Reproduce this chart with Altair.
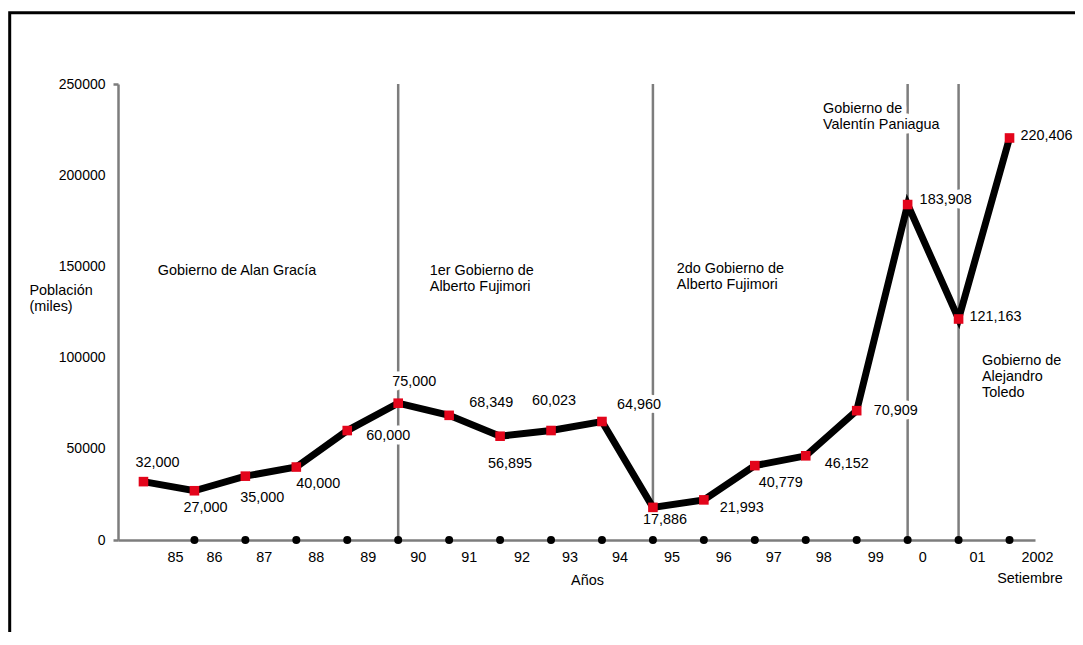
import altair as alt
import pandas as pd

# ---------------- data ----------------
years = ["85", "86", "87", "88", "89", "90", "91", "92", "93", "94",
         "95", "96", "97", "98", "99", "0", "01", "2002"]
poblacion = [32000, 27000, 35000, 40000, 60000, 75000, 68349, 56895, 60023,
             64960, 17886, 21993, 40779, 46152, 70909, 183908, 121163, 220406]

# government boundaries (index of year) and where each rule stops at the bottom
gov_idx = [5, 10, 15, 16]
gov_bottom = [0, 17886, 0, 0]

annot_text = ["Gobierno de Alan Gracía",
              "1er Gobierno de\nAlberto Fujimori",
              "2do Gobierno de\nAlberto Fujimori",
              "Gobierno de\nValentín Paniagua",
              "Gobierno de\nAlejandro\nToledo"]
annot_x = [0.28, 5.62, 10.47, 13.34, 16.46]
annot_y = [145300, 145300, 146400, 234100, 95900]

# label placement offsets in pixels (style)
label_dx = [14, 11, 17, 22, 41, 16, 42, 10, 3, 37, 12, 38, 26, 41, 39, 38, 37, 37]
label_dy = [-19, 17, 22, 17, 5, -21, -12, 28, -30, -17, 13, 8, 17, 8, 0, -5, -2, -2]
year_dx = [32, 20, 19, 20, 21, 20, 20, 22, 19, 18, 19, 20, 19, 18, 19, 15, 19, 28]

# ---------------- layout ----------------
W, H = 917, 456
XMIN, XMAX = -0.5, 17.5
YMAX = 250000
PXX = W / (XMAX - XMIN)
PXY = H / YMAX

GRAY = "#7d7d7d"
RED = "#e3051b"
FONT = "Liberation Sans"
FS = 14.4

df = pd.DataFrame({
    "idx": list(range(len(years))),
    "year": years,
    "pob": poblacion,
    "ldx": label_dx,
    "ldy": label_dy,
    "ydx": year_dx,
})
gov = pd.DataFrame({"idx": gov_idx, "bottom": gov_bottom, "top": [YMAX] * len(gov_idx)})
ann = pd.DataFrame({"text": annot_text, "ax": annot_x, "ay": annot_y})

xs = alt.Scale(domain=[XMIN, XMAX], nice=False, zero=False)
ys = alt.Scale(domain=[0, YMAX], nice=False, zero=False)

XAX = alt.Axis(
    title="Años", labels=False, ticks=False, grid=False,
    domainColor=GRAY, domainWidth=2.5,
    titleX=469, titleY=44, titleBaseline="alphabetic",
    titleFont=FONT, titleFontSize=FS, titleFontWeight="normal", titleColor="black",
)
YAX = alt.Axis(
    values=[0, 50000, 100000, 150000, 200000, 250000], format="d",
    grid=False, domainColor=GRAY, domainWidth=2.5,
    tickSize=5, tickWidth=2.5,
    tickColor={"condition": {"test": "datum.value === 0 || datum.value === 250000",
                             "value": GRAY}, "value": "transparent"},
    labelPadding=8, labelFont=FONT, labelFontSize=14, labelColor="black",
    title=["Población", "(miles)"], titleAngle=0, titleAlign="left",
    titleBaseline="alphabetic", titleX=-89, titleY=210, titleLineHeight=16,
    titleFont=FONT, titleFontSize=FS, titleFontWeight="normal", titleColor="black",
)


def X(field):
    return alt.X(field, scale=xs, axis=XAX)


def Y(field):
    return alt.Y(field, scale=ys, axis=YAX)


base = alt.Chart(df)

frame = alt.Chart(pd.DataFrame({"k": [0]})).mark_rect(
    filled=False, stroke="black", strokeWidth=3
).encode(
    x=alt.value(-108.3), x2=alt.value(3000),
    y=alt.value(-71.2), y2=alt.value(3000)
)

rules = alt.Chart(gov).mark_rule(color=GRAY, strokeWidth=2.5).encode(
    x=X("idx:Q"), y=Y("top:Q"), y2="bottom:Q",
)

labels_src = base.transform_calculate(
    lx=f"datum.idx + datum.ldx / {PXX}",
    ly=f"datum.pob - datum.ldy / {PXY}",
)

label_halo = labels_src.mark_text(
    font=FONT, fontSize=FS, align="center", baseline="middle",
    stroke="white", strokeWidth=9, strokeJoin="round", fill="white"
).encode(x=X("lx:Q"), y=Y("ly:Q"), text=alt.Text("pob:Q", format=","))

ann_halo = alt.Chart(ann).mark_text(
    font=FONT, fontSize=FS, align="left", baseline="alphabetic", lineBreak="\n",
    lineHeight=16, stroke="white", strokeWidth=9, strokeJoin="round", fill="white"
).encode(x=X("ax:Q"), y=Y("ay:Q"), text="text:N")

line = base.mark_line(color="black", strokeWidth=7).encode(x=X("idx:Q"), y=Y("pob:Q"))

squares = base.mark_square(size=92, color=RED, opacity=1).encode(x=X("idx:Q"), y=Y("pob:Q"))

dots = base.transform_filter("datum.idx >= 1").transform_calculate(zero="0").mark_circle(
    size=64, color="black", opacity=1
).encode(x=X("idx:Q"), y=Y("zero:Q"))

year_text = base.transform_calculate(
    yx=f"datum.idx + datum.ydx / {PXX}", zero="0"
).mark_text(font=FONT, fontSize=FS, baseline="middle", align="center", dy=18, color="black").encode(
    x=X("yx:Q"), y=Y("zero:Q"), text="year:N",
)

setiembre = base.transform_filter("datum.year === '2002'").transform_calculate(
    sx=f"datum.idx + 20.5 / {PXX}", zero="0"
).mark_text(font=FONT, fontSize=FS, baseline="middle", align="center", dy=39, color="black").encode(
    x=X("sx:Q"), y=Y("zero:Q"), text=alt.value("Setiembre"),
)

value_text = labels_src.mark_text(
    font=FONT, fontSize=FS, align="center", baseline="middle", color="black"
).encode(x=X("lx:Q"), y=Y("ly:Q"), text=alt.Text("pob:Q", format=","))

ann_text = alt.Chart(ann).mark_text(
    font=FONT, fontSize=FS, align="left", baseline="alphabetic", lineBreak="\n",
    lineHeight=16, color="black"
).encode(x=X("ax:Q"), y=Y("ay:Q"), text="text:N")

chart = alt.layer(
    frame, rules, label_halo, ann_halo, line, squares, dots,
    year_text, setiembre, value_text, ann_text
).properties(
    width=W, height=H,
    autosize=alt.AutoSizeParams(type="none"),
    padding={"left": 110, "top": 76, "right": 40, "bottom": 92},
).configure(font=FONT).configure_view(stroke=None)

chart.save("out.html", embed_options={"renderer": "svg", "actions": False})
